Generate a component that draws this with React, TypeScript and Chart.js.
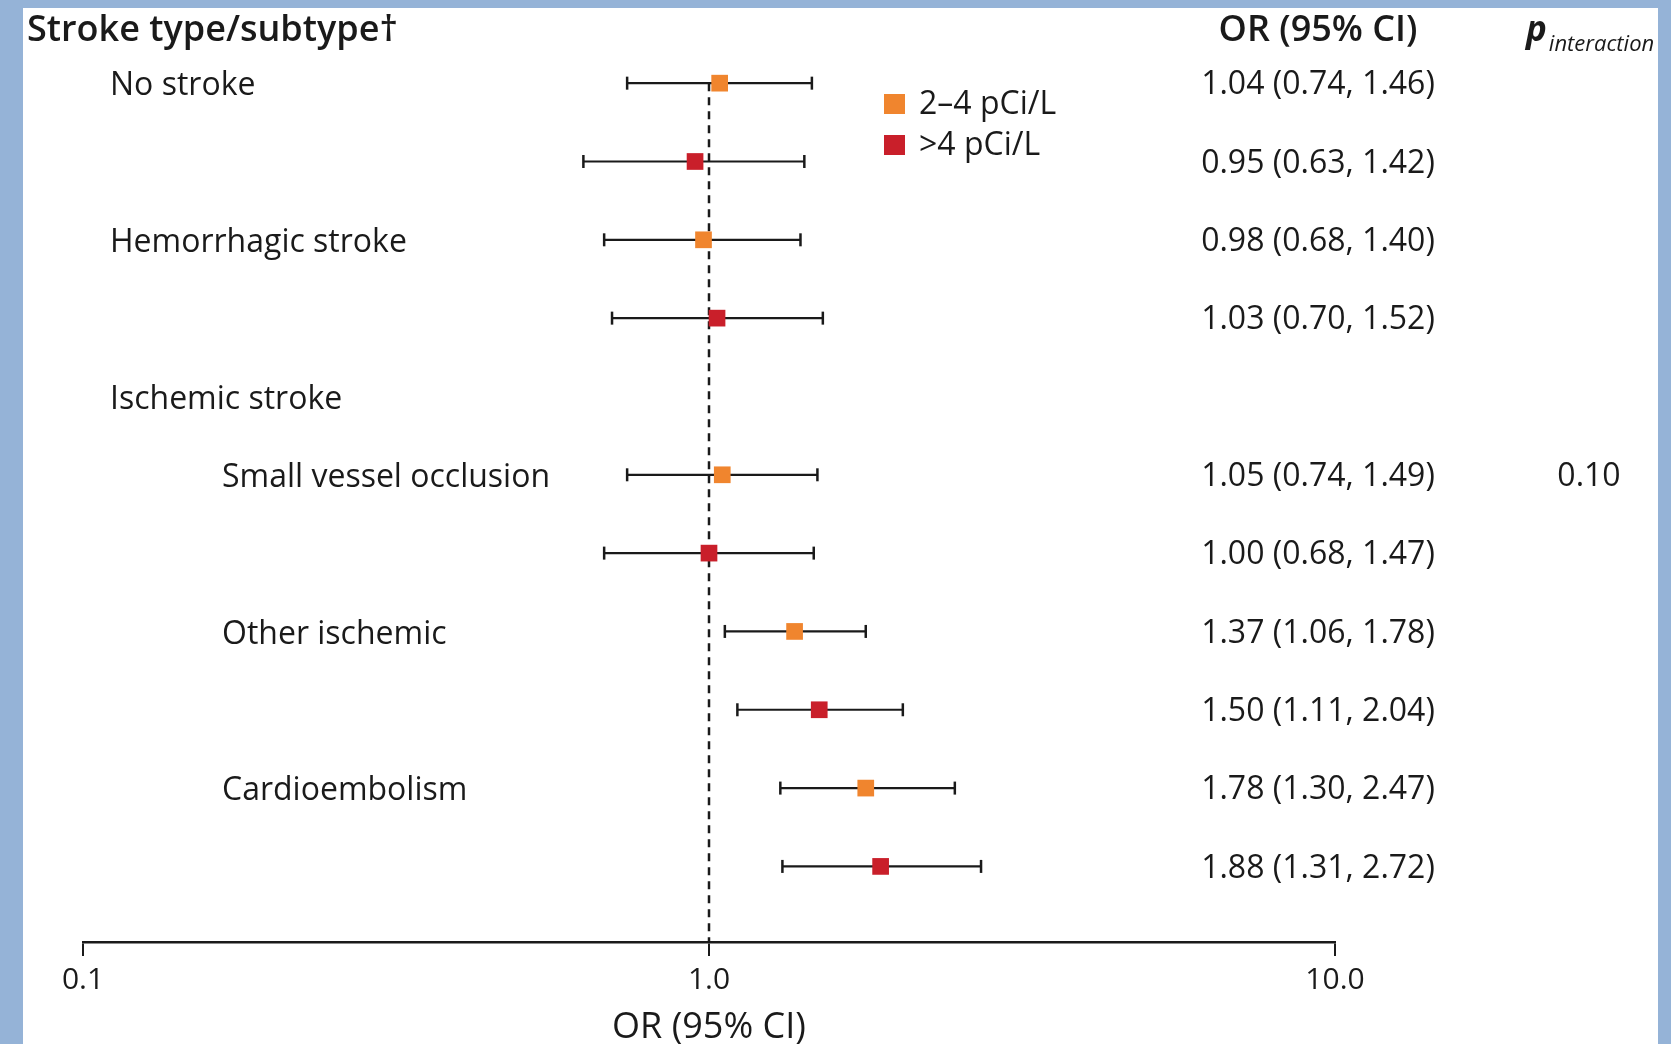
import React, { useEffect, useRef } from "react";
import { Chart, registerables } from "chart.js";

Chart.register(...registerables);

// ---------------- data ----------------
const categories = [
  "No stroke",
  "Hemorrhagic stroke",
  "Ischemic stroke",
  "Small vessel occlusion",
  "Other ischemic",
  "Cardioembolism",
];
const categoryLevel = [1, 1, 1, 2, 2, 2];

const seriesNames = ["2–4 pCi/L", ">4 pCi/L"];

const or24: (number | null)[] = [1.04, 0.98, null, 1.05, 1.37, 1.78];
const lo24: (number | null)[] = [0.74, 0.68, null, 0.74, 1.06, 1.3];
const hi24: (number | null)[] = [1.46, 1.4, null, 1.49, 1.78, 2.47];

const or4: (number | null)[] = [0.95, 1.03, null, 1.0, 1.5, 1.88];
const lo4: (number | null)[] = [0.63, 0.7, null, 0.68, 1.11, 1.31];
const hi4: (number | null)[] = [1.42, 1.52, null, 1.47, 2.04, 2.72];

const pInteraction: (string | null)[] = [null, null, null, "0.10", null, null];

const xTicks = [0.1, 1, 10];
const referenceValue = 1;

// ---------------- styles ----------------
const ORANGE = "#F0852E";
const RED = "#C91F2A";
const INK = "#1a1a1a";
const FRAME = "#95B3D7";
const FONT = '"Open Sans", "Noto Sans", sans-serif';

type Row = {
  index: number;
  label: string | null;
  level: number;
  series: number | null;
  or: number | null;
  lo: number | null;
  hi: number | null;
  p: string | null;
};

function buildRows(): Row[] {
  const rows: Row[] = [];
  let r = 0;
  categories.forEach((cat, i) => {
    if (or24[i] == null && or4[i] == null) {
      rows.push({ index: r++, label: cat, level: categoryLevel[i], series: null, or: null, lo: null, hi: null, p: null });
      return;
    }
    rows.push({ index: r++, label: cat, level: categoryLevel[i], series: 0, or: or24[i], lo: lo24[i], hi: hi24[i], p: pInteraction[i] });
    rows.push({ index: r++, label: null, level: categoryLevel[i], series: 1, or: or4[i], lo: lo4[i], hi: hi4[i], p: null });
  });
  return rows;
}

export default function App() {
  const ref = useRef<HTMLCanvasElement>(null);

  useEffect(() => {
    document.body.style.margin = "0";
    let chart: Chart | null = null;
    let cancelled = false;

    const rows = buildRows();
    const nRows = rows.length;
    const colors = [ORANGE, RED];

    const ciDatasets: any[] = rows
      .filter((r) => r.series != null)
      .map((r) => ({
        type: "scatter",
        label: "ci" + r.index,
        data: [
          { x: r.lo, y: r.index },
          { x: r.hi, y: r.index },
        ],
        showLine: true,
        borderColor: INK,
        borderWidth: 2.2,
        pointStyle: "line",
        rotation: 90,
        pointRadius: 6.5,
        pointBorderColor: INK,
        pointBorderWidth: 2.5,
        pointBackgroundColor: INK,
        order: 1,
      }));

    const markerDatasets: any[] = [0, 1].map((s) => ({
      type: "scatter",
      label: seriesNames[s],
      data: rows.filter((r) => r.series === s).map((r) => ({ x: r.or, y: r.index })),
      pointStyle: "rect",
      pointRadius: 11.8,
      pointBackgroundColor: colors[s],
      pointBorderWidth: 0,
      backgroundColor: colors[s],
      borderColor: colors[s],
      order: 0,
    }));

    const refLine: any = {
      type: "scatter",
      label: "ref",
      data: [
        { x: referenceValue, y: 0 },
        { x: referenceValue, y: nRows + 0.5 },
      ],
      showLine: true,
      borderColor: INK,
      borderWidth: 2.5,
      borderDash: [8, 6],
      pointRadius: 0,
      order: 2,
    };

    const background = {
      id: "frame",
      beforeDraw(c: any) {
        const ctx = c.ctx;
        ctx.save();
        ctx.fillStyle = FRAME;
        ctx.fillRect(0, 0, c.width, c.height);
        ctx.fillStyle = "#ffffff";
        ctx.fillRect(23, 8, 1658 - 23, c.height - 8);
        ctx.restore();
      },
    };

    const texts = {
      id: "texts",
      afterDraw(c: any) {
        const ctx = c.ctx;
        const y = c.scales.y;
        ctx.save();
        ctx.fillStyle = INK;
        ctx.textBaseline = "alphabetic";

        // headers
        ctx.font = `600 36px ${FONT}`;
        ctx.textAlign = "left";
        ctx.fillText("Stroke type/subtype†", 27, 41);
        ctx.textAlign = "center";
        ctx.fillText("OR (95% CI)", 1318, 41);
        ctx.textAlign = "left";
        ctx.font = `italic bold 35px ${FONT}`;
        ctx.fillText("p", 1526, 41);
        const pw = ctx.measureText("p").width;
        ctx.font = `italic 22px ${FONT}`;
        ctx.fillText("interaction", 1526 + pw + 2, 51);

        // rows
        ctx.textBaseline = "middle";
        rows.forEach((r) => {
          const py = y.getPixelForValue(r.index);
          if (r.label) {
            ctx.font = `32px ${FONT}`;
            ctx.textAlign = "left";
            ctx.fillText(r.label, r.level === 1 ? 110 : 222, py + 3);
          }
          if (r.or != null && r.lo != null && r.hi != null) {
            ctx.font = `32px ${FONT}`;
            ctx.textAlign = "center";
            ctx.fillText(`${r.or.toFixed(2)} (${r.lo.toFixed(2)}, ${r.hi.toFixed(2)})`, 1318, py + 2);
          }
          if (r.p) {
            ctx.font = `32px ${FONT}`;
            ctx.textAlign = "center";
            ctx.fillText(r.p, 1589, py + 2);
          }
        });

        // legend
        ctx.font = `32px ${FONT}`;
        ctx.textAlign = "left";
        [0, 1].forEach((s) => {
          const cy = 104 + s * 41;
          ctx.fillStyle = colors[s];
          ctx.fillRect(884, cy - 10, 21, 20);
          ctx.fillStyle = INK;
          ctx.fillText(seriesNames[s], 919, cy + 1);
        });
        ctx.restore();
      },
    };

    const build = () => {
      if (cancelled || !ref.current) return;
      chart = new Chart(ref.current, {
        type: "scatter",
        data: { datasets: [...markerDatasets, ...ciDatasets, refLine] },
        options: {
          animation: false,
          responsive: false,
          events: [],
          layout: { padding: { left: 83, right: 336, top: 44, bottom: 0 } },
          plugins: {
            legend: { display: false },
            tooltip: { enabled: false },
          },
          scales: {
            x: {
              type: "logarithmic",
              min: xTicks[0],
              max: xTicks[xTicks.length - 1],
              afterBuildTicks: (scale: any) => {
                scale.ticks = xTicks.map((v) => ({ value: v }));
              },
              afterFit: (scale: any) => {
                scale.height = 102;
              },
              ticks: {
                color: INK,
                font: { family: FONT, size: 30 },
                padding: 6,
                autoSkip: false,
                maxRotation: 0,
                callback: (v: any) => Number(v).toFixed(1),
              },
              grid: {
                display: true,
                drawOnChartArea: false,
                drawTicks: true,
                tickLength: 14,
                color: INK,
                lineWidth: 2,
              },
              border: { display: true, color: INK, width: 2.5 },
              title: {
                display: true,
                text: "OR (95% CI)",
                color: INK,
                font: { family: FONT, size: 36, lineHeight: 0.9 },
                padding: { top: 0, bottom: 0 },
              },
            },
            y: {
              type: "linear",
              display: false,
              reverse: true,
              min: -0.5,
              max: nRows - 0.035,
            },
          },
        } as any,
        plugins: [background, texts],
      } as any);
    };

    const fontsApi: any = (document as any).fonts;
    if (fontsApi && fontsApi.load) {
      Promise.all([
        fontsApi.load(`32px "Open Sans"`),
        fontsApi.load(`600 36px "Open Sans"`),
        fontsApi.load(`italic 22px "Open Sans"`),
        fontsApi.load(`italic bold 35px "Open Sans"`),
      ])
        .catch(() => null)
        .then(build);
    } else {
      build();
    }

    return () => {
      cancelled = true;
      if (chart) chart.destroy();
    };
  }, []);

  return (
    <div style={{ position: "absolute", left: 0, top: 0, width: 1671, height: 1044 }}>
      <canvas ref={ref} width={1671} height={1044} style={{ display: "block", width: 1671, height: 1044 }} />
    </div>
  );
}
